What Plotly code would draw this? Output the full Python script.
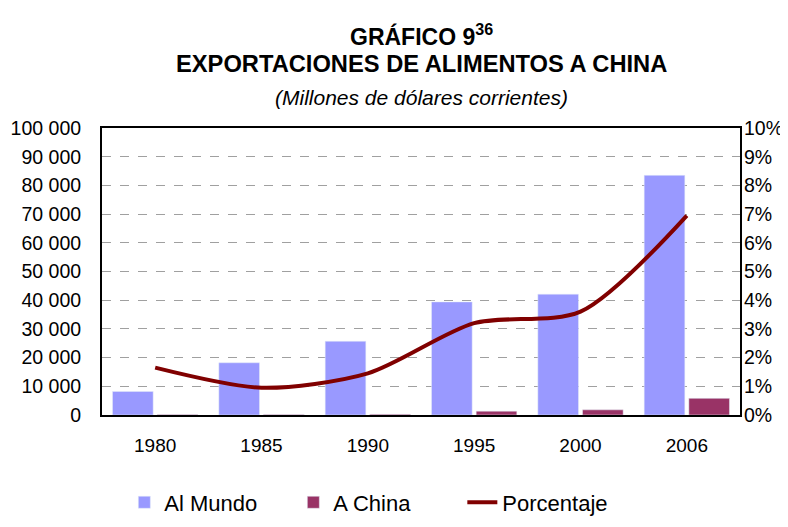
import plotly.graph_objects as go

years = ["1980", "1985", "1990", "1995", "2000", "2006"]
al_mundo = [8200, 18200, 25700, 39400, 42100, 83500]
a_china = [200, 200, 250, 1350, 1800, 5800]
porcentaje = [1.65, 0.95, 1.45, 3.2, 3.6, 6.95]

left_ticks = list(range(0, 100001, 10000))
left_labels = ["0"] + [f"{v // 1000} 000" for v in left_ticks[1:]]
right_ticks = list(range(0, 11))
right_labels = [f"{v}%" for v in right_ticks]

FONT = "Liberation Sans, Arial, sans-serif"
# plot frame position as measured on the reference
REF_TOP, REF_BOTTOM = 127, 419


def paper_y(py):
    return (REF_BOTTOM - py) / (REF_BOTTOM - REF_TOP)


fig = go.Figure()
fig.add_trace(go.Bar(x=years, y=al_mundo, name="Al Mundo", marker_color="#9999ff"))
fig.add_trace(go.Bar(x=years, y=a_china, name="A China", marker_color="#993366"))
fig.add_trace(go.Scatter(
    x=years, y=porcentaje, name="Porcentaje", yaxis="y2",
    mode="lines", line=dict(color="#800000", width=4, shape="spline", smoothing=0.8),
))

titles = [
    ("<b>GRÁFICO 9<sup>36</sup></b>", 32, 23),
    ("<b>EXPORTACIONES DE ALIMENTOS A CHINA</b>", 62, 23.7),
    ("<i>(Millones de dólares corrientes)</i>", 96, 21),
]
annotations = []
for text, py, size in titles:
    annotations.append(dict(
        text=text, x=0.5, xref="paper", xanchor="center",
        y=paper_y(py), yref="paper", yanchor="middle",
        showarrow=False, font=dict(family=FONT, size=size, color="black"),
    ))

fig.update_layout(
    width=788, height=527,
    paper_bgcolor="white", plot_bgcolor="white",
    font=dict(family=FONT, size=19.5, color="black"),
    margin=dict(l=94, r=56, t=120, b=103),
    barmode="group", bargap=0.16, bargroupgap=0.09,
    annotations=annotations,
    xaxis=dict(
        showline=True, linecolor="black", linewidth=2, mirror=True,
        ticks="", showgrid=False, tickfont=dict(size=19), automargin=False,
        ticklabelstandoff=12,
    ),
    yaxis=dict(
        range=[0, 100000], tickvals=left_ticks, ticktext=left_labels,
        showline=True, linecolor="black", linewidth=2, mirror=True,
        showgrid=True, gridcolor="#a0a0a0", griddash="dash", gridwidth=1,
        zeroline=False, ticks="", tickfont=dict(size=19.5), automargin=False,
        ticklabelstandoff=15,
    ),
    yaxis2=dict(
        range=[0, 10], tickvals=right_ticks, ticktext=right_labels,
        overlaying="y", side="right", showgrid=False, zeroline=False,
        ticks="", tickfont=dict(size=19.5), automargin=False,
        ticklabelstandoff=3,
    ),
    legend=dict(
        orientation="h", x=0.035, xanchor="left", y=paper_y(508), yanchor="middle",
        font=dict(size=22), entrywidth=124, entrywidthmode="pixels",
        traceorder="normal",
    ),
)

fig.write_html("out.html")
